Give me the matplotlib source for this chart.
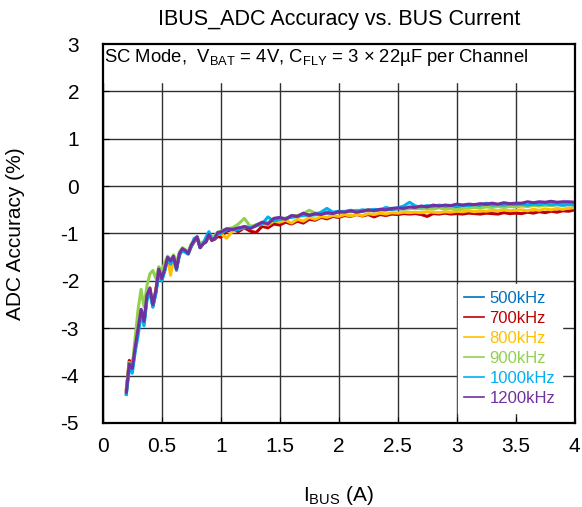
import numpy as np
import matplotlib
matplotlib.use("Agg")
import matplotlib.pyplot as plt

plt.rcParams["font.family"] = ["Liberation Sans", "DejaVu Sans"]
plt.rcParams["mathtext.fontset"] = "custom"
plt.rcParams["mathtext.rm"] = "Liberation Sans"
plt.rcParams["mathtext.it"] = "Liberation Sans:italic"
plt.rcParams["axes.unicode_minus"] = False

# bus current sample points (A): finer steps on the steep part
i_bus = np.round(np.concatenate([np.arange(0.2, 1.0001, 0.025),
                                 np.arange(1.05, 4.0001, 0.05)]), 3)

acc_500k = [-4.38, -3.80, -3.90, -3.45, -3.05, -2.65, -2.90, -2.35, -2.20, -2.55, -2.25,
            -1.80, -1.98, -1.78, -1.52, -1.60, -1.50, -1.72, -1.45, -1.35, -1.38, -1.40,
            -1.27, -1.17, -1.10, -1.28, -1.20, -1.15, -1.05, -1.12, -1.08, -1.00, -0.98,
            -0.92, -0.90, -0.90, -0.85, -0.88, -0.82, -0.78, -0.78, -0.70, -0.68, -0.69,
            -0.64, -0.63, -0.60, -0.62, -0.59, -0.58, -0.57, -0.56, -0.55, -0.54, -0.54,
            -0.52, -0.53, -0.51, -0.52, -0.50, -0.50, -0.49, -0.48, -0.48, -0.47, -0.46,
            -0.46, -0.45, -0.45, -0.44, -0.45, -0.43, -0.44, -0.43, -0.44, -0.42, -0.43,
            -0.42, -0.42, -0.41, -0.42, -0.41, -0.42, -0.40, -0.41, -0.40, -0.41, -0.39,
            -0.40, -0.39, -0.40, -0.38, -0.39]

acc_700k = [-4.30, -3.68, -3.80, -3.40, -2.98, -2.62, -2.88, -2.32, -2.18, -2.52, -2.22,
            -1.78, -1.96, -1.76, -1.52, -1.60, -1.50, -1.74, -1.44, -1.34, -1.38, -1.42,
            -1.27, -1.17, -1.09, -1.30, -1.22, -1.18, -1.05, -1.14, -1.12, -1.06, -1.08,
            -0.95, -0.92, -0.96, -0.88, -0.95, -0.98, -0.85, -0.88, -0.80, -0.82, -0.76,
            -0.80, -0.74, -0.78, -0.70, -0.72, -0.66, -0.69, -0.64, -0.66, -0.62, -0.64,
            -0.60, -0.63, -0.60, -0.65, -0.60, -0.62, -0.59, -0.60, -0.58, -0.59, -0.58,
            -0.60, -0.64, -0.58, -0.59, -0.57, -0.59, -0.58, -0.59, -0.57, -0.58, -0.59,
            -0.57, -0.58, -0.59, -0.56, -0.58, -0.57, -0.58, -0.55, -0.57, -0.54, -0.56,
            -0.53, -0.55, -0.52, -0.53, -0.50]

acc_800k = [-4.32, -3.75, -3.85, -3.42, -3.00, -2.62, -2.86, -2.30, -2.15, -2.50, -2.20,
            -1.76, -1.95, -1.72, -1.50, -1.88, -1.55, -1.70, -1.40, -1.33, -1.36, -1.40,
            -1.25, -1.16, -1.08, -1.25, -1.20, -1.15, -1.05, -1.12, -1.08, -1.02, -1.00,
            -1.10, -0.95, -0.90, -0.88, -0.86, -0.84, -0.80, -0.82, -0.74, -0.76, -0.72,
            -0.78, -0.70, -0.74, -0.66, -0.70, -0.64, -0.66, -0.62, -0.64, -0.60, -0.63,
            -0.60, -0.62, -0.58, -0.60, -0.57, -0.59, -0.56, -0.57, -0.55, -0.56, -0.55,
            -0.56, -0.54, -0.55, -0.56, -0.54, -0.55, -0.53, -0.54, -0.52, -0.54, -0.52,
            -0.53, -0.51, -0.52, -0.50, -0.52, -0.51, -0.50, -0.52, -0.49, -0.51, -0.48,
            -0.50, -0.47, -0.49, -0.46, -0.46]

acc_900k = [-4.30, -3.72, -3.80, -3.20, -2.60, -2.18, -2.55, -2.10, -1.85, -1.78, -1.95,
            -1.70, -1.80, -1.62, -1.48, -1.55, -1.45, -1.62, -1.40, -1.30, -1.34, -1.38,
            -1.22, -1.14, -1.06, -1.22, -1.18, -1.12, -1.00, -1.08, -1.04, -0.97, -0.95,
            -0.90, -0.88, -0.80, -0.68, -0.85, -0.82, -0.78, -0.77, -0.70, -0.67, -0.68,
            -0.63, -0.62, -0.58, -0.51, -0.57, -0.57, -0.55, -0.56, -0.54, -0.53, -0.53,
            -0.51, -0.52, -0.50, -0.51, -0.49, -0.49, -0.47, -0.47, -0.48, -0.48, -0.46,
            -0.48, -0.47, -0.48, -0.46, -0.48, -0.47, -0.49, -0.47, -0.46, -0.45, -0.46,
            -0.44, -0.45, -0.43, -0.45, -0.43, -0.44, -0.42, -0.43, -0.41, -0.42, -0.40,
            -0.41, -0.39, -0.40, -0.38, -0.37]

acc_1000k = [-4.40, -3.85, -3.95, -3.50, -3.15, -2.70, -2.95, -2.40, -2.25, -2.55, -2.28,
             -1.85, -2.00, -1.80, -1.55, -1.65, -1.52, -1.78, -1.46, -1.36, -1.40, -1.44,
             -1.28, -1.10, -1.08, -1.30, -1.22, -1.08, -0.96, -1.12, -1.10, -1.00, -1.00,
             -0.92, -0.90, -0.92, -0.86, -0.88, -0.84, -0.80, -0.65, -0.74, -0.70, -0.68,
             -0.66, -0.64, -0.62, -0.60, -0.61, -0.55, -0.47, -0.55, -0.53, -0.54, -0.51,
             -0.53, -0.50, -0.52, -0.49, -0.50, -0.45, -0.48, -0.46, -0.42, -0.34, -0.42,
             -0.44, -0.41, -0.43, -0.40, -0.42, -0.41, -0.42, -0.40, -0.41, -0.39, -0.40,
             -0.36, -0.40, -0.39, -0.40, -0.38, -0.39, -0.38, -0.40, -0.38, -0.39, -0.37,
             -0.39, -0.38, -0.40, -0.39, -0.40]

acc_1200k = [-4.35, -3.75, -3.85, -3.40, -3.00, -2.60, -2.85, -2.30, -2.15, -2.50, -2.20,
             -1.75, -1.95, -1.75, -1.50, -1.58, -1.48, -1.75, -1.42, -1.32, -1.36, -1.42,
             -1.25, -1.15, -1.07, -1.30, -1.22, -1.17, -1.02, -1.15, -1.10, -0.98, -0.97,
             -0.90, -0.92, -0.88, -0.86, -0.90, -0.83, -0.76, -0.80, -0.68, -0.66, -0.70,
             -0.62, -0.64, -0.57, -0.62, -0.58, -0.60, -0.56, -0.58, -0.54, -0.55, -0.52,
             -0.55, -0.53, -0.50, -0.52, -0.49, -0.50, -0.47, -0.46, -0.47, -0.44, -0.45,
             -0.42, -0.44, -0.40, -0.42, -0.40, -0.41, -0.38, -0.40, -0.38, -0.39, -0.37,
             -0.38, -0.36, -0.38, -0.35, -0.37, -0.36, -0.36, -0.33, -0.35, -0.33, -0.34,
             -0.32, -0.34, -0.33, -0.33, -0.34]

labels = ["500kHz", "700kHz", "800kHz", "900kHz", "1000kHz", "1200kHz"]
colors = ["#0070C0", "#C00000", "#FFC000", "#92D050", "#00B0F0", "#7030A0"]
series = [acc_500k, acc_700k, acc_800k, acc_900k, acc_1000k, acc_1200k]

fig = plt.figure(figsize=(5.82, 5.07), dpi=100)
ax = fig.add_axes([0.1765, 0.1657, 0.811, 0.7475])

ax.set_axisbelow(True)
ax.grid(True, color="#303030", linewidth=1.0)

# header band for the test conditions, grid hidden beneath it
ax.axhspan(2.2, 3.0, color="white", zorder=1)

for y, lab, c in zip(series, labels, colors):
    ax.plot(i_bus, y, color=c, linewidth=2.2, label=lab, zorder=2)

ax.set_xlim(0, 4)
ax.set_ylim(-5, 3)
ax.set_xticks(np.arange(0, 4.01, 0.5))
ax.set_xticklabels(["0", "0.5", "1", "1.5", "2", "2.5", "3", "3.5", "4"])
ax.set_yticks(np.arange(-5, 3.01, 1))
ax.tick_params(direction="in", length=4, labelsize=15, colors="black")
ax.tick_params(axis="x", pad=10)
ax.tick_params(axis="y", pad=17)

for s in ax.spines.values():
    s.set_linewidth(1.6)
    s.set_zorder(3)

ax.text(0.015, 2.72, r"SC Mode,  V$_{\mathrm{BAT}}$ = 4V, C$_{\mathrm{FLY}}$ = 3 × 22µF per Channel",
        fontsize=13.3, va="center", ha="left", zorder=3)

ax.set_title("IBUS_ADC Accuracy vs. BUS Current", fontsize=15.5, pad=14)
ax.set_ylabel("ADC Accuracy (%)", fontsize=15, labelpad=26)
ax.set_xlabel(r"I$_{\mathrm{BUS}}$ (A)", fontsize=15, labelpad=20)

leg = ax.legend(loc="lower right", bbox_to_anchor=(0.99, 0.005), frameon=True,
                fontsize=12, handlelength=1.2, handletextpad=0.3, labelspacing=0.3,
                borderpad=0.4, fancybox=False)
leg.get_frame().set_edgecolor("white")
leg.get_frame().set_facecolor("white")
leg.get_frame().set_alpha(1.0)
for line in leg.get_lines():
    line.set_linewidth(1.2)
for txt, c in zip(leg.get_texts(), colors):
    txt.set_color(c)

fig.savefig("out.png", dpi=100)
